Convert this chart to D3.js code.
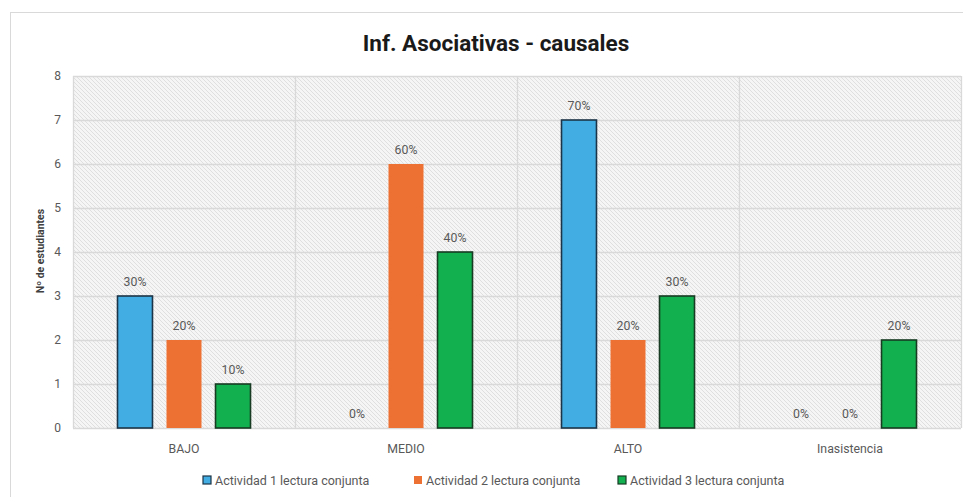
<!DOCTYPE html>
<html>
  <head>
    <title>Inf. Asociativas - causales</title>
    <script src="https://d3js.org/d3.v7.min.js"></script>
    <style>
      html, body {
        margin:0;
        padding:0;
        background:#fff;
      }
      svg text {
        font-family: Roboto, "Liberation Sans", sans-serif;
      }
    </style>
  </head>
  <body>
    <svg id="chart" width="963" height="497"></svg>
    <script>
      var categories = ["BAJO", "MEDIO", "ALTO", "Inasistencia"];
      var seriesNames = ["Actividad 1 lectura conjunta", "Actividad 2 lectura conjunta", "Actividad 3 lectura conjunta"];
      var act1 = [3, 0, 7, 0];
      var act2 = [2, 6, 2, 0];
      var act3 = [1, 4, 3, 2];
      var pctLabels = [
        ["30%", "0%", "70%", "0%"],
        ["20%", "60%", "20%", "0%"],
        ["10%", "40%", "30%", "20%"]
      ];
      var yTicks = [0, 1, 2, 3, 4, 5, 6, 7, 8];

      var colors = ["#42ade2", "#ec7133", "#12b04e"];
      var strokes = ["#1c3447", "none", "#173b23"];

      var svg = d3.select("#chart");
      var m = {left: 73, right: 961, top: 76, bottom: 428};

      // chart border
      svg.append("rect")
        .attr("x", 10.5).attr("y", 12.5)
        .attr("width", 970).attr("height", 500)
        .attr("fill", "#fff")
        .attr("stroke", "#d9d9d9");

      // hatch pattern for plot area
      var defs = svg.append("defs");
      var pat = defs.append("pattern")
        .attr("id", "hatch")
        .attr("patternUnits", "userSpaceOnUse")
        .attr("width", 4).attr("height", 4);
      pat.append("rect").attr("width", 4).attr("height", 4).attr("fill", "#f5f5f5");
      pat.append("path")
        .attr("d", "M-1,-1 L5,5 M-1,3 L1,5 M3,-1 L5,1")
        .attr("stroke", "#dcdcdc")
        .attr("stroke-width", 0.9);

      var x = d3.scaleBand().domain(categories).range([m.left, m.right]);
      var xs = d3.scaleBand().domain(d3.range(3)).range([0, x.bandwidth()]).paddingInner(0.286).paddingOuter(0.908);
      var y = d3.scaleLinear().domain([0, 8]).range([m.bottom, m.top]);

      svg.append("rect")
        .attr("x", m.left).attr("y", m.top)
        .attr("width", m.right - m.left).attr("height", m.bottom - m.top)
        .attr("fill", "url(#hatch)");

      // horizontal grid
      svg.append("g").selectAll("line").data(yTicks).join("line")
        .attr("x1", m.left).attr("x2", m.right)
        .attr("y1", d => Math.round(y(d)) + 0.5).attr("y2", d => Math.round(y(d)) + 0.5)
        .attr("stroke", "#d9d9d9").attr("stroke-width", 1.3);

      // vertical grid at category boundaries
      var bounds = categories.map(c => x(c)).concat([m.right]);
      svg.append("g").selectAll("line").data(bounds).join("line")
        .attr("x1", d => Math.round(d) + 0.5).attr("x2", d => Math.round(d) + 0.5)
        .attr("y1", m.top).attr("y2", m.bottom)
        .attr("stroke", "#d9d9d9").attr("stroke-width", 1.3);

      // y tick labels
      svg.append("g").selectAll("text").data(yTicks).join("text")
        .attr("x", 61).attr("y", d => y(d) + 4)
        .attr("text-anchor", "end")
        .attr("font-size", 12)
        .attr("fill", "#595959")
        .text(d => d);

      // x category labels
      svg.append("g").selectAll("text").data(categories).join("text")
        .attr("x", d => x(d) + x.bandwidth() / 2)
        .attr("y", 453)
        .attr("text-anchor", "middle")
        .attr("font-size", 12.3)
        .attr("fill", "#595959")
        .text(d => d);

      // bars
      var series = [act1, act2, act3];
      series.forEach(function(vals, si) {
        var rows = vals.map((v, i) => ({cat: categories[i], v: v, label: pctLabels[si][i]}));
        var g = svg.append("g");
        g.selectAll("rect").data(rows.filter(d => d.v > 0)).join("rect")
          .attr("x", d => x(d.cat) + xs(si))
          .attr("y", d => y(d.v))
          .attr("width", xs.bandwidth())
          .attr("height", d => y(0) - y(d.v))
          .attr("fill", colors[si])
          .attr("stroke", strokes[si])
          .attr("stroke-width", 1.6);
        g.selectAll("text").data(rows).join("text")
          .attr("x", d => x(d.cat) + xs(si) + xs.bandwidth() / 2)
          .attr("y", d => y(d.v) - 10)
          .attr("text-anchor", "middle")
          .attr("font-size", 12.3)
          .attr("fill", "#595959")
          .text(d => d.label);
      });

      // title
      svg.append("text")
        .attr("x", 496).attr("y", 51)
        .attr("text-anchor", "middle")
        .attr("font-size", 22.5)
        .attr("font-weight", "bold")
        .attr("fill", "#1a1a1a")
        .text("Inf. Asociativas - causales");

      // y axis title
      svg.append("text")
        .attr("transform", "translate(44,251) rotate(-90)")
        .attr("text-anchor", "middle")
        .attr("font-size", 10.5)
        .attr("font-weight", "bold")
        .attr("fill", "#404040")
        .text("Nº de estudiantes");

      // legend
      var legendX = [203, 414, 618];
      var leg = svg.append("g").selectAll("g").data(seriesNames).join("g")
        .attr("transform", (d, i) => "translate(" + legendX[i] + ",476)");
      leg.append("rect")
        .attr("width", 8).attr("height", 8)
        .attr("fill", (d, i) => colors[i])
        .attr("stroke", (d, i) => i === 1 ? "none" : strokes[i])
        .attr("stroke-width", 1.2);
      leg.append("text")
        .attr("x", 12).attr("y", 8.5)
        .attr("font-size", 12.5)
        .attr("fill", "#595959")
        .text(d => d);
    </script>
  </body>
</html>
